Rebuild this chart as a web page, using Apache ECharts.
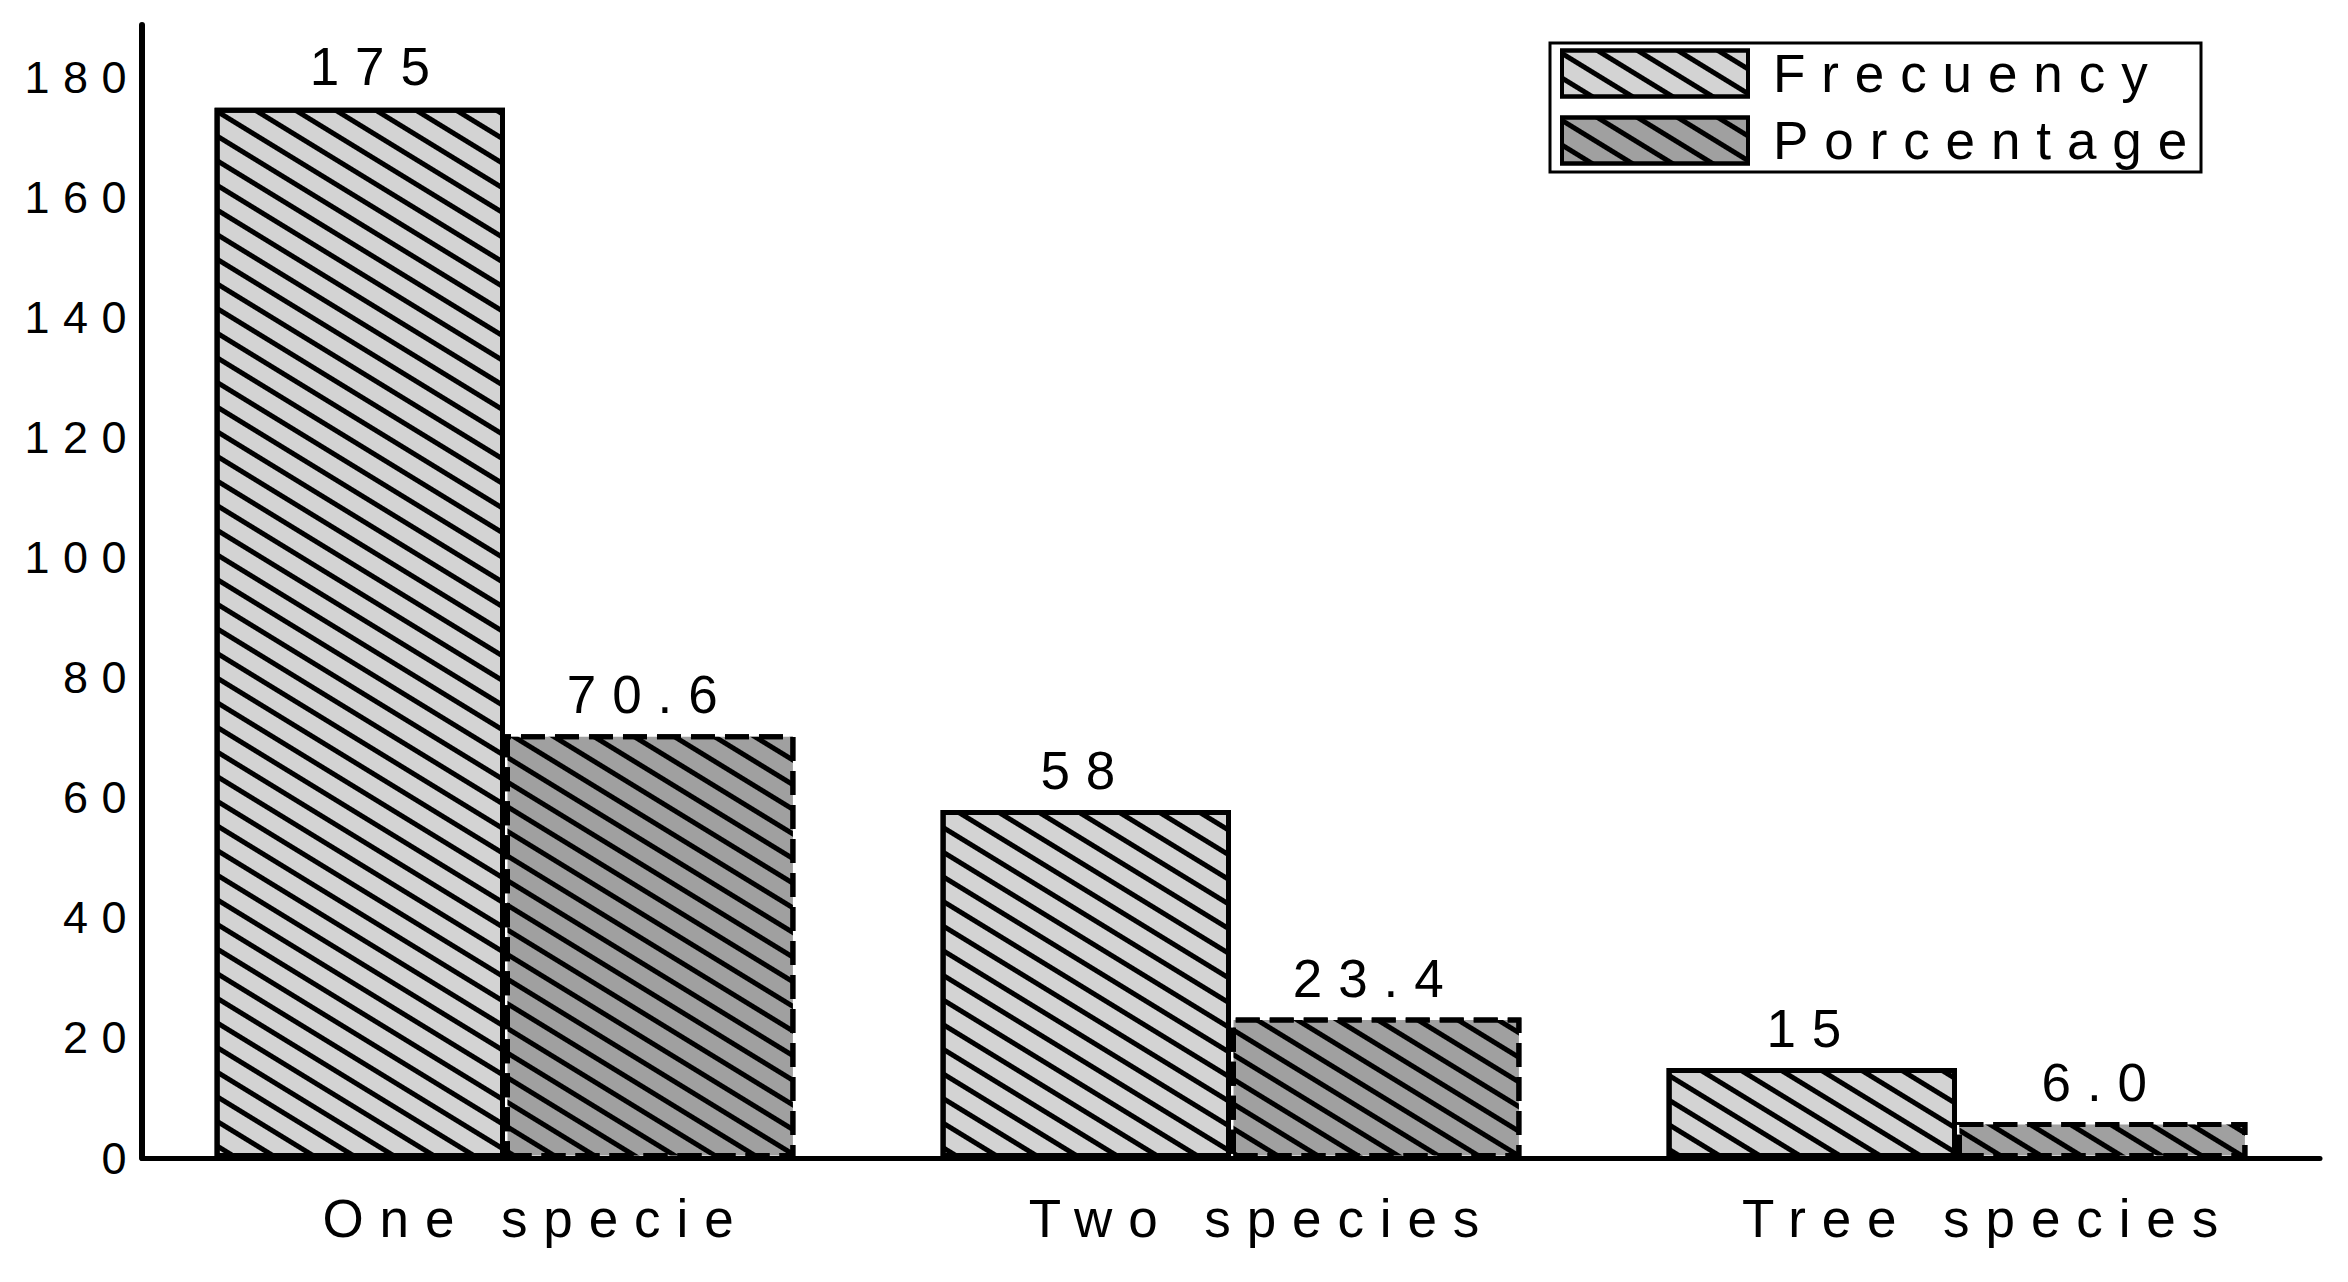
<!DOCTYPE html>
<html><head><meta charset="utf-8">
<script src="https://cdn.jsdelivr.net/npm/echarts@6/dist/echarts.min.js"></script>
<style>
html,body{margin:0;padding:0;background:#fff}
#c{width:2348px;height:1282px}
#c text{letter-spacing:0.3em}
</style></head><body><div id="c"></div>
<script>
const categories = ['One specie', 'Two species', 'Tree species'];
const seriesNames = ['Frecuency', 'Porcentage'];
const frequency = [175, 58, 15];
const percentage = [70.6, 23.4, 6.0];
const yMin = 0, yMax = 188.8, yInterval = 20;

const FONT = '"Liberation Sans", Arial, sans-serif';
const stripe = (c) => ({
  symbol: 'rect', dashArrayX: [1, 0], dashArrayY: [5, 16],
  rotation: 0.55, color: c, symbolSize: 1
});
const chart = echarts.init(document.getElementById('c'), null, {renderer: 'svg'});
chart.setOption({
  animation: false,
  backgroundColor: '#fff',
  grid: {left: 142, right: 28, top: 25, bottom: 124, containLabel: false},
  legend: {
    orient: 'vertical', right: 147, top: 43,
    padding: [4, 10, 5, 10], itemGap: 14,
    itemWidth: 186, itemHeight: 46, icon: 'rect',
    borderColor: '#000', borderWidth: 3,
    itemStyle: {borderWidth: 4},
    formatter: '{t|{name}}',
    textStyle: {
      fontFamily: FONT, fontSize: 53, color: '#000',
      rich: {t: {fontFamily: FONT, fontSize: 53, color: '#000', width: 418, lineHeight: 46, padding: [0, 0, 0, 20]}}
    },
    data: seriesNames
  },
  xAxis: {
    type: 'category', data: categories,
    axisLine: {lineStyle: {color: '#000', width: 5}},
    axisTick: {show: false},
    axisLabel: {fontFamily: FONT, fontSize: 53, color: '#000', margin: 34, padding: [0, 0, 0, 62]}
  },
  yAxis: {
    type: 'value', min: yMin, max: yMax, interval: yInterval,
    splitLine: {show: false},
    axisLine: {show: true, lineStyle: {color: '#000', width: 6}},
    axisTick: {show: false},
    axisLabel: {fontFamily: FONT, fontSize: 45, color: '#000', margin: 2, showMaxLabel: false,
      formatter: v => (v % yInterval === 0 ? String(v) : '')}
  },
  series: [
    {
      name: seriesNames[0], type: 'bar',
      data: frequency.map((v, i) => (i === 0 ? {value: v, label: {offset: [18, -2]}} : v)),
      barGap: '0%', barCategoryGap: '20%',
      itemStyle: {color: '#d3d3d3', borderColor: '#000', borderWidth: 5, decal: stripe('#000')},
      label: {show: true, position: 'top', distance: 13, fontFamily: FONT, fontSize: 53, color: '#000'}
    },
    {
      name: seriesNames[1], type: 'bar', data: percentage,
      itemStyle: {color: '#a0a0a0', borderColor: '#000', borderWidth: 5, borderType: [24, 10], decal: stripe('#000')},
      label: {show: true, position: 'top', distance: 13, fontFamily: FONT, fontSize: 53, color: '#000',
        formatter: p => Number(p.value).toFixed(1)}
    }
  ]
});
</script></body></html>
